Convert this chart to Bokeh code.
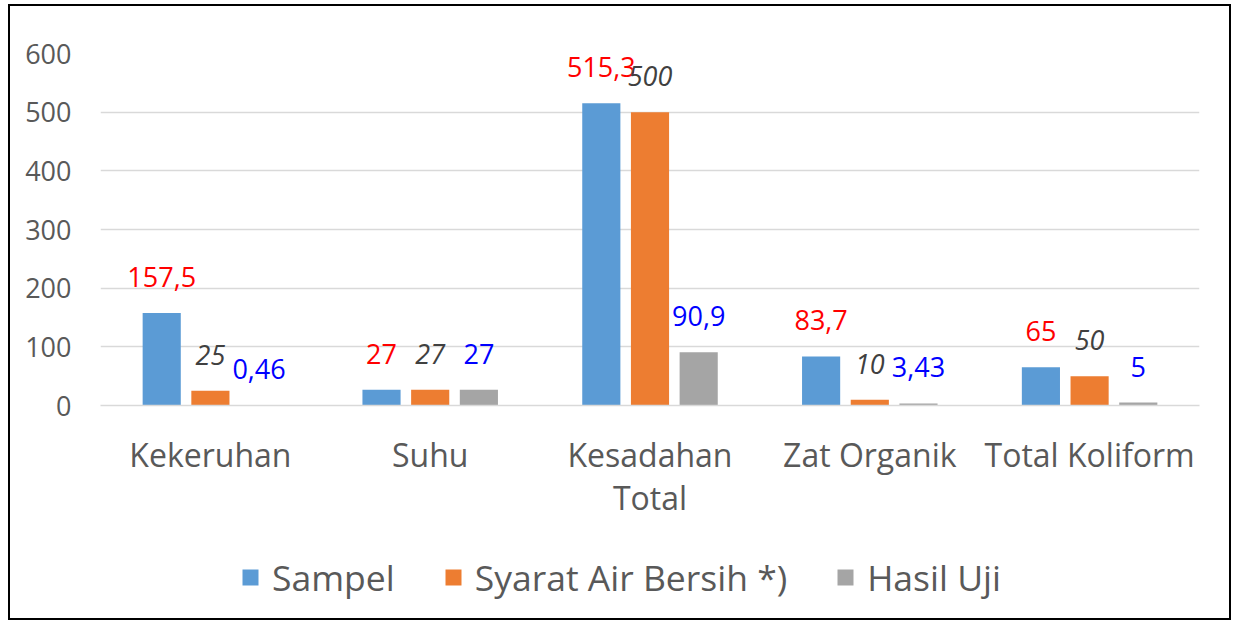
from bokeh.plotting import figure
from bokeh.layouts import column
from bokeh.models import FactorRange, ColumnDataSource, Legend, LegendItem, FixedTicker
from bokeh.transform import dodge
from bokeh.core.properties import value
from bokeh.embed import file_html
from bokeh.resources import INLINE

categories = ["Kekeruhan", "Suhu", "Kesadahan\nTotal", "Zat Organik", "Total Koliform"]
sampel = [157.5, 27, 515.3, 83.7, 65]
syarat = [25, 27, 500, 10, 50]
hasil_uji = [0.46, 27, 90.9, 3.43, 5]
series_names = ["Sampel", "Syarat Air Bersih *)", "Hasil Uji"]
y_ticks = [0, 100, 200, 300, 400, 500, 600]


def fmt(v):
    return f"{v:g}".replace(".", ",")


src = ColumnDataSource(dict(
    cat=categories,
    sampel=sampel, syarat=syarat, hasil=hasil_uji,
    l_sampel=[fmt(v) for v in sampel],
    l_syarat=[fmt(v) for v in syarat],
    l_hasil=[fmt(v) for v in hasil_uji],
))

FONT = "Open Sans"
GRID = "#D9D9D9"
TXT = "#595959"
BORDER = "2px solid #000000"

p = figure(x_range=FactorRange(*categories, range_padding=0), y_range=(0, 600),
           width=1223, height=529, output_backend="svg", toolbar_location=None,
           min_border_left=90, min_border_right=34, min_border_top=47, min_border_bottom=130)
p.styles = {"border-top": BORDER, "border-left": BORDER, "border-right": BORDER}
p.outline_line_color = None
p.xgrid.grid_line_color = None
p.ygrid.grid_line_color = GRID
p.ygrid.grid_line_width = 1.5

p.yaxis.ticker = FixedTicker(ticks=y_ticks)
p.yaxis.axis_line_color = None
p.yaxis.major_tick_line_color = None
p.yaxis.minor_tick_line_color = None
p.yaxis.major_label_text_font = FONT
p.yaxis.major_label_text_font_size = "27px"
p.yaxis.major_label_text_color = TXT
p.yaxis.major_label_standoff = 23

p.xaxis.axis_line_color = GRID
p.xaxis.axis_line_width = 1.5
p.xaxis.major_tick_line_color = None
p.xaxis.major_label_text_font = FONT
p.xaxis.major_label_text_font_size = "32px"
p.xaxis.major_label_text_color = TXT
p.xaxis.major_label_text_line_height = 1.0
p.xaxis.major_label_standoff = 21

offs = [-0.2215, 0.0, 0.2215]
cols = ["sampel", "syarat", "hasil"]
lcols = ["l_sampel", "l_syarat", "l_hasil"]
colors = ["#5B9BD5", "#ED7D31", "#A5A5A5"]
lab_colors = ["#FF0000", "#404040", "#0000FF"]
lab_styles = ["normal", "italic", "normal"]
W = 0.1735

for o, c, lc, col, tcol, st in zip(offs, cols, lcols, colors, lab_colors, lab_styles):
    p.vbar(x=dodge("cat", o, range=p.x_range), top=c, width=W, source=src,
           fill_color=col, line_color=None)
    p.text(x=dodge("cat", o, range=p.x_range), y=c, text=lc, source=src,
           text_align="center", text_baseline="alphabetic", y_offset=-36,
           text_color=tcol, text_font=value(FONT), text_font_size="27px",
           text_font_style=st)

# legend strip below the chart (hidden proxy renderers share the same data)
p2 = figure(width=1223, height=87, output_backend="svg", toolbar_location=None,
            x_axis_location=None, y_axis_location=None, min_border=0,
            x_range=p.x_range, y_range=p.y_range)
p2.styles = {"border-bottom": BORDER, "border-left": BORDER, "border-right": BORDER}
p2.outline_line_color = None
p2.grid.grid_line_color = None
lrs = []
for o, c, col in zip(offs, cols, colors):
    r = p2.vbar(x=dodge("cat", o, range=p2.x_range), top=c, width=W, source=src,
                fill_color=col, line_color=None, visible=False)
    lrs.append(r)

legend = Legend(items=[LegendItem(label=n, renderers=[r]) for n, r in zip(series_names, lrs)],
                orientation="horizontal", location=(140, 19),
                border_line_color=None, background_fill_alpha=0,
                inactive_fill_alpha=0,
                label_text_font=FONT, label_text_font_size="35.5px", label_text_color=TXT,
                glyph_width=20, glyph_height=20, label_standoff=12, spacing=48,
                padding=0, margin=0)
p2.add_layout(legend)

layout = column(p, p2, spacing=0, styles={"margin": "4px 0px 0px 8px"})

open("out.html", "w").write(file_html(layout, INLINE))
